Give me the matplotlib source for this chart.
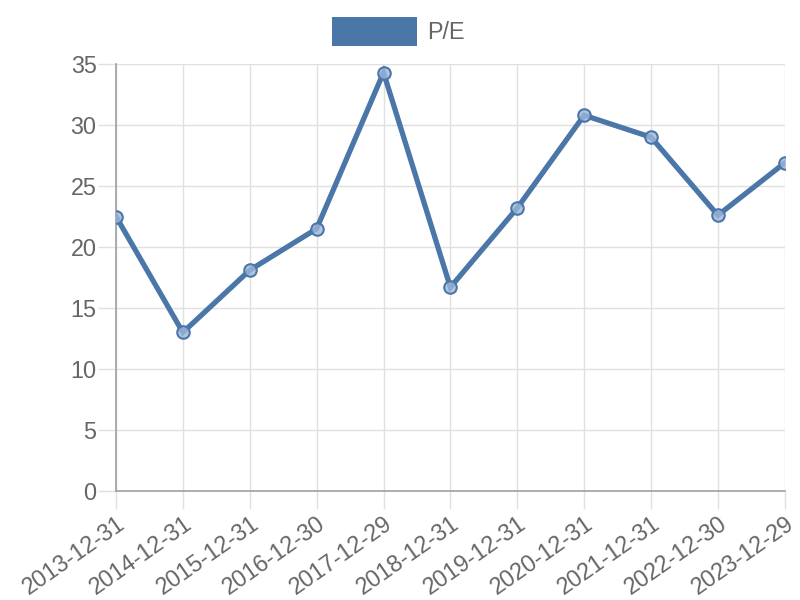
import matplotlib
matplotlib.use("Agg")
import matplotlib.pyplot as plt
import matplotlib.patches as patches

# adatok
datumok = ["2013-12-31", "2014-12-31", "2015-12-31", "2016-12-30", "2017-12-29",
           "2018-12-31", "2019-12-31", "2020-12-31", "2021-12-31", "2022-12-30",
           "2023-12-29"]
pe = [22.5, 13.0, 18.1, 21.5, 34.3, 16.7, 23.2, 30.8, 29.0, 22.6, 26.9]
y_ticks = [0, 5, 10, 15, 20, 25, 30, 35]

szin = "#4a76a8"
racs = "#e0e0e0"
tengely = "#a0a0a0"
szoveg = "#666666"

plt.rcParams["font.family"] = ["Liberation Sans", "DejaVu Sans"]

fig = plt.figure(figsize=(8, 6), dpi=100)
ax = fig.add_axes([0.145, 0.1817, 0.836, 0.7116])

x = list(range(len(datumok)))
ax.plot(x, pe, color=szin, linewidth=3.8, solid_joinstyle="miter", zorder=3)
ax.plot(x, pe, linestyle="none", marker="o", markersize=9,
        markerfacecolor=(0.62, 0.72, 0.85, 0.8), markeredgecolor=szin,
        markeredgewidth=1.5, zorder=4)

ax.set_xlim(0, len(datumok) - 1)
ax.set_ylim(0, 35)
ax.set_xticks(x)
ax.set_xticklabels(datumok, rotation=35, ha="right", rotation_mode="anchor")
ax.set_yticks(y_ticks)

ax.grid(True, color=racs, linewidth=1)
ax.set_axisbelow(True)
for s in ["top", "right"]:
    ax.spines[s].set_visible(False)
for s in ["left", "bottom"]:
    ax.spines[s].set_color(tengely)
    ax.spines[s].set_linewidth(1.2)

ax.tick_params(axis="both", colors=racs, labelcolor=szoveg, labelsize=16.8,
               length=13, width=1, pad=1)
ax.tick_params(axis="x", pad=2)

# jelmagyarazat
leg = patches.Rectangle((0.415, 0.923), 0.106, 0.048, transform=fig.transFigure,
                        facecolor=szin, edgecolor="none")
fig.patches.append(leg)
fig.text(0.534, 0.946, "P/E", fontsize=16.8, color=szoveg, va="center", ha="left")

fig.savefig("out.png", dpi=100)
